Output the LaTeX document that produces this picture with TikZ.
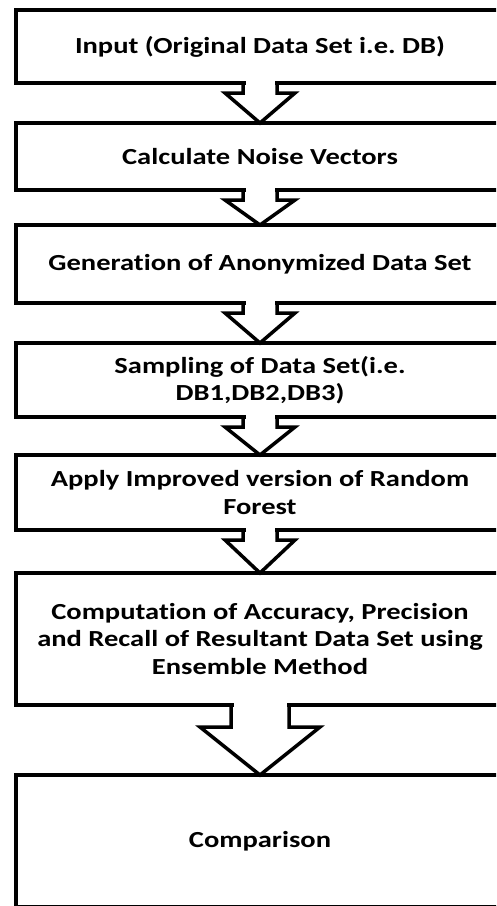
\documentclass[tikz,border=0pt]{standalone}
\usepackage{fontspec}
\setmainfont{Carlito}[FakeStretch=1.24, Ligatures=NoCommon]
\frenchspacing
\tikzset{
	stage/.style={draw, line width=4pt, outer sep=0pt, inner sep=0pt, minimum width=488pt,
		align=center, font=\fontsize{23}{27.5}\selectfont\bfseries},
	flowline/.style={draw, line width=3.5pt, line join=miter},
}
% block arrow: from, to, shaft half width, shaft depth, head half width
\newcommand{\blockdown}[5]{
	\fill[white] ([xshift=-#3pt+2.5pt, yshift=3pt]#1.south) rectangle ([xshift=#3pt-2.5pt, yshift=-3pt]#1.south);
	\draw[flowline] ([xshift=-#3pt]#1.south) -- ([xshift=-#3pt, yshift=-#4pt]#1.south)
		-- ([xshift=-#5pt, yshift=-#4pt]#1.south) -- (#2.north)
		-- ([xshift=#5pt, yshift=-#4pt]#1.south) -- ([xshift=#3pt, yshift=-#4pt]#1.south)
		-- ([xshift=#3pt]#1.south);
}
\begin{document}
\begin{tikzpicture}[x=1pt, y=-1pt]
	\useasboundingbox (0,0) rectangle (496,906);
	\clip (0,0) rectangle (496,906);
	\fill[white] (0,0) rectangle (496,906);

	\node (input)   at (260, 46.5)	[stage, minimum height=73pt]	{Input (Original Data Set i.e. DB)};
	\node (noise)   at (260,156.5)	[stage, minimum height=67pt]	{Calculate Noise Vectors};
	\node (anon)    at (260,264)	[stage, minimum height=78pt]	{Generation of Anonymized Data Set};
	\node (sample)  at (260,380)	[stage, minimum height=74pt]	{Sampling of Data Set(i.e.\\DB1,DB2,DB3)};
	\node (forest)  at (260,492.5)	[stage, minimum height=75pt]	{Apply Improved version of Random\\Forest};
	\node (compute) at (260,639)	[stage, minimum height=132pt]	{Computation of Accuracy, Precision\\and Recall of Resultant Data Set using\\Ensemble Method};
	\node (compare) at (260,841)	[stage, minimum height=132pt]	{Comparison};

	\foreach \a/\b in {input/noise, noise/anon, anon/sample, sample/forest, forest/compute}
		\blockdown{\a}{\b}{17}{10}{35};
	\blockdown{compute}{compare}{29}{22}{60}
\end{tikzpicture}
\end{document}
